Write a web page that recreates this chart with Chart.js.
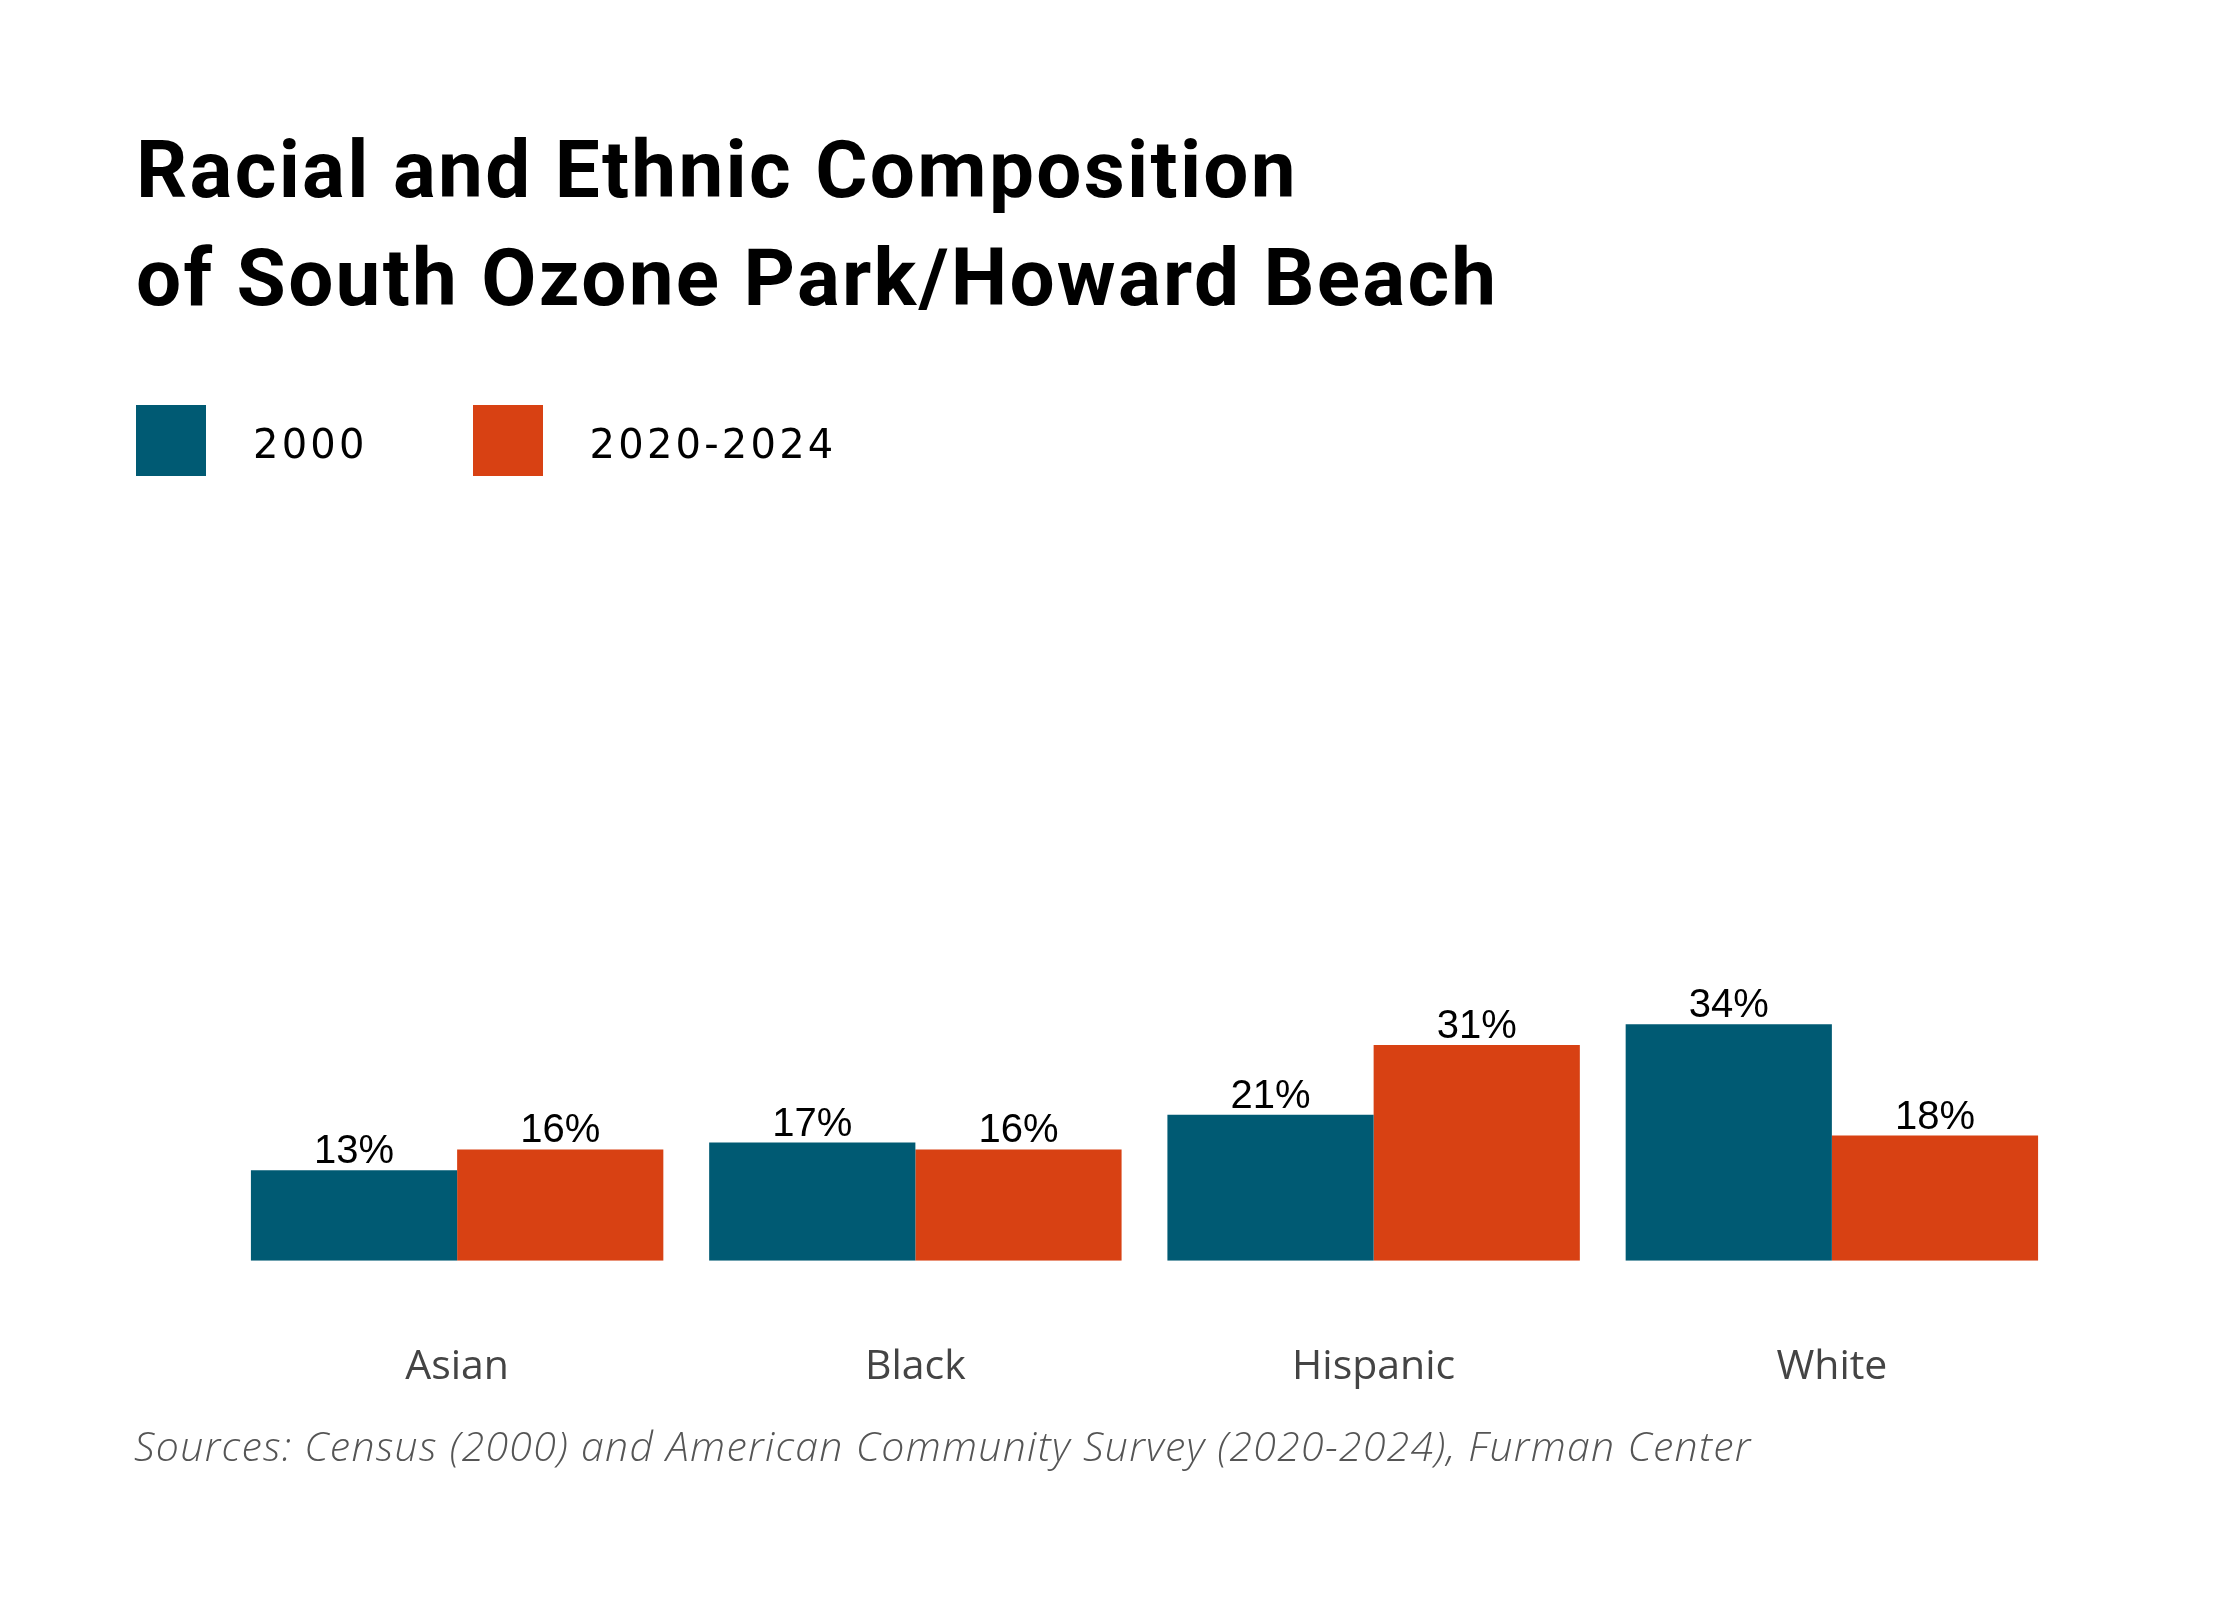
<!DOCTYPE html>
<html>
<head>
<meta charset="utf-8">
<script src="https://cdn.jsdelivr.net/npm/chart.js@4.4.1/dist/chart.umd.min.js"></script>
<style>
  html, body { margin: 0; padding: 0; background: #fff; }
  #wrap { position: relative; width: 2240px; height: 1600px; overflow: hidden; }
  #chart { position: absolute; left: 0; top: 0; }
  .title { position: absolute; left: 136px; top: 116px; font-family: Roboto, sans-serif; font-weight: 700;
           font-size: 80px; line-height: 108px; letter-spacing: 2.3px; color: #000; white-space: nowrap; }
  .legend { position: absolute; left: 136px; top: 405px; height: 71px; display: flex; align-items: center; }
  .legend .box { width: 70px; height: 71px; }
  .legend .txt { font-family: "DejaVu Sans", sans-serif; font-size: 40px; letter-spacing: 3.2px; color: #000;
                 padding-top: 6px; margin-left: 47px; margin-right: 105px; }
  .source { position: absolute; left: 134px; top: 1421px; font-family: "Open Sans", sans-serif; font-style: italic;
            font-weight: 300; font-size: 41px; line-height: 48px; letter-spacing: 1.3px; color: #555; white-space: nowrap; }
</style>
</head>
<body>
<div id="wrap">
  <canvas id="chart" width="2240" height="1600"></canvas>
  <div class="title">Racial and Ethnic Composition<br>of South Ozone Park/Howard Beach</div>
  <div class="legend" id="legend"></div>
  <div class="source">Sources: Census (2000) and American Community Survey (2020-2024), Furman Center</div>
</div>
<script>
var categories = ['Asian', 'Black', 'Hispanic', 'White'];
var seriesNames = ['2000', '2020-2024'];
var values2000 = [13, 17, 21, 34];
var values2020 = [16, 16, 31, 18];
var seriesColors = ['#005a73', '#d84113'];

// legend
var legend = document.getElementById('legend');
seriesNames.forEach(function (name, i) {
    var box = document.createElement('div');
    box.className = 'box';
    box.style.background = seriesColors[i];
    var txt = document.createElement('div');
    txt.className = 'txt';
    txt.textContent = name;
    legend.appendChild(box);
    legend.appendChild(txt);
});

// percent labels above bars
var barLabels = {
    id: 'barLabels',
    afterDatasetsDraw: function (chart) {
        var ctx = chart.ctx;
        ctx.save();
        ctx.font = '40px "Liberation Sans", Arial, sans-serif';
        ctx.fillStyle = '#000';
        ctx.textAlign = 'center';
        ctx.textBaseline = 'alphabetic';
        chart.data.datasets.forEach(function (ds, i) {
            chart.getDatasetMeta(i).data.forEach(function (bar, j) {
                ctx.fillText(ds.data[j] + '%', bar.x, bar.y - 7);
            });
        });
        ctx.restore();
    }
};

var ctx = document.getElementById('chart').getContext('2d');
var chart = new Chart(ctx, {
    type: 'bar',
    data: {
        labels: categories,
        datasets: [
            { label: seriesNames[0], data: values2000, backgroundColor: seriesColors[0] },
            { label: seriesNames[1], data: values2020, backgroundColor: seriesColors[1] }
        ]
    },
    options: {
        responsive: false,
        animation: false,
        devicePixelRatio: 1,
        categoryPercentage: 0.9,
        barPercentage: 1.0,
        layout: { padding: { left: 228, right: 179, top: 565, bottom: 126 } },
        plugins: { legend: { display: false }, tooltip: { enabled: false }, title: { display: false } },
        scales: {
            x: {
                grid: { display: false, drawTicks: false },
                border: { display: false },
                ticks: { padding: 82, color: '#444', font: { family: '"Open Sans", sans-serif', size: 41 } }
            },
            y: { display: false, min: 0, max: 100 }
        }
    },
    plugins: [barLabels]
});
</script>
</body>
</html>
